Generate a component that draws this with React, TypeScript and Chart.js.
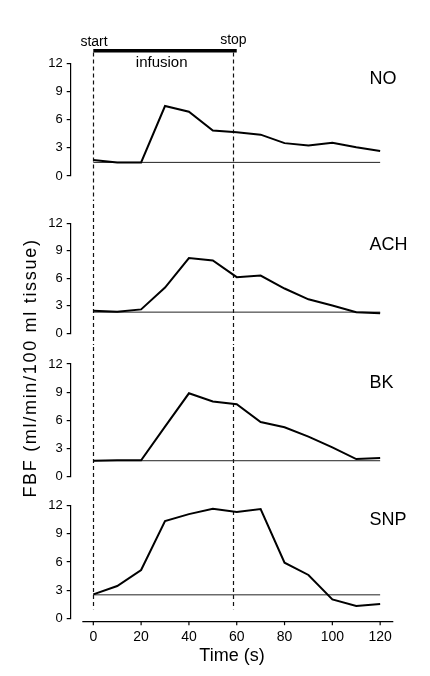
import React, { useEffect, useRef } from "react";
import { Chart, registerables } from "chart.js";

Chart.register(...registerables);

// ---- data ----
const TIME_S = [0, 10, 20, 30, 40, 50, 60, 70, 80, 90, 100, 110, 120];
const FBF_NO = [1.7, 1.45, 1.45, 7.45, 6.85, 4.85, 4.65, 4.4, 3.5, 3.25, 3.55, 3.05, 2.65];
const FBF_ACH = [2.45, 2.35, 2.6, 4.98, 8.2, 7.94, 6.12, 6.3, 4.88, 3.7, 3.03, 2.3, 2.18];
const FBF_BK = [1.7, 1.75, 1.75, 5.33, 8.88, 8.0, 7.72, 5.82, 5.26, 4.27, 3.13, 1.88, 2.0];
const FBF_SNP = [2.55, 3.44, 5.15, 10.37, 11.1, 11.67, 11.33, 11.65, 5.93, 4.62, 2.02, 1.31, 1.52];
const BASELINE = [1.45, 2.3, 1.7, 2.5];
const PANEL_NAMES = ["NO", "ACH", "BK", "SNP"];
const SERIES = [FBF_NO, FBF_ACH, FBF_BK, FBF_SNP];
const Y_TICKS = [0, 3, 6, 9, 12];
const X_TICKS = [0, 20, 40, 60, 80, 100, 120];
const INFUSION = [0, 60];
const START_TIME = 0;
const STOP_TIME = 58.6;
const X_TITLE = "Time (s)";
const Y_TITLE = "FBF (ml/min/100 ml tissue)";

// ---- layout / style ----
const FONT = '"Liberation Sans", Arial, Helvetica, sans-serif';
const PANEL_LAYOUT = [
  { top: 0, height: 200, padTop: 63.3, padBottom: 24, labelY: 10.3 },
  { top: 200, height: 145, padTop: 23.3, padBottom: 9.3, labelY: 9.6 },
  { top: 345, height: 145, padTop: 19, padBottom: 13.3, labelY: 10.0 },
  { top: 490, height: 186, padTop: 15.7, padBottom: 0, labelY: 10.5 },
];
const X_MIN = -9.46;
const X_MAX = 125.5;
const X_AXIS_START = -4.6;

function Panel({ index }: { index: number }) {
  const ref = useRef<HTMLCanvasElement | null>(null);
  const lay = PANEL_LAYOUT[index];
  const isFirst = index === 0;
  const isLast = index === PANEL_LAYOUT.length - 1;

  useEffect(() => {
    if (!ref.current) return;
    const deco = {
      id: "deco" + index,
      beforeDatasetsDraw(chart: any) {
        const ctx = chart.ctx;
        const xs = chart.scales.x;
        const ys = chart.scales.y;
        const area = chart.chartArea;
        ctx.save();
        // dashed start/stop lines
        const y0 = isFirst ? 50.7 : 0;
        const y1 = isLast ? area.bottom - 9 : chart.height;
        ctx.strokeStyle = "#111";
        ctx.lineWidth = 1.2;
        ctx.setLineDash([4, 3]);
        ctx.lineDashOffset = -(lay.top + y0);
        [START_TIME, STOP_TIME].forEach((t) => {
          const px = Math.round(xs.getPixelForValue(t)) + 0.5;
          ctx.beginPath();
          ctx.moveTo(px, y0);
          ctx.lineTo(px, y1);
          ctx.stroke();
        });
        ctx.setLineDash([]);
        // panel label
        ctx.fillStyle = "#000";
        ctx.font = "18px " + FONT;
        ctx.textAlign = "left";
        ctx.textBaseline = "middle";
        ctx.fillText(PANEL_NAMES[index], 369.5, ys.getPixelForValue(lay.labelY));
        if (isFirst) {
          // infusion bar
          ctx.strokeStyle = "#000";
          ctx.lineWidth = 3.5;
          ctx.beginPath();
          ctx.moveTo(xs.getPixelForValue(INFUSION[0]), 50.7);
          ctx.lineTo(xs.getPixelForValue(INFUSION[1]), 50.7);
          ctx.stroke();
          ctx.font = "14px " + FONT;
          ctx.textAlign = "center";
          ctx.textBaseline = "alphabetic";
          ctx.fillText("start", xs.getPixelForValue(START_TIME) + 0.7, 45.5);
          ctx.fillText("stop", xs.getPixelForValue(STOP_TIME), 43.5);
          ctx.font = "15px " + FONT;
          ctx.fillText("infusion", xs.getPixelForValue(28.6), 66.5);
        }
        if (isLast) {
          const ay = area.bottom + 3.4;
          ctx.strokeStyle = "#000";
          ctx.lineWidth = 1.2;
          ctx.beginPath();
          ctx.moveTo(xs.getPixelForValue(X_AXIS_START), ay);
          ctx.lineTo(area.right, ay);
          ctx.stroke();
          X_TICKS.forEach((t) => {
            const px = xs.getPixelForValue(t);
            ctx.beginPath();
            ctx.moveTo(px, ay);
            ctx.lineTo(px, ay + 3.5);
            ctx.stroke();
          });
        }
        ctx.restore();
      },
    };

    const xScale: any = {
      type: "linear",
      min: X_MIN,
      max: X_MAX,
      display: isLast,
      afterBuildTicks: (s: any) => {
        s.ticks = X_TICKS.map((v) => ({ value: v }));
      },
      grid: { display: false },
      border: { display: false },
      ticks: {
        padding: 2,
        autoSkip: false,
        maxRotation: 0,
        color: "#000",
        font: { family: FONT, size: 14 },
      },
      title: {
        display: true,
        text: X_TITLE,
        color: "#000",
        font: { family: FONT, size: 18 },
        padding: { top: 0, bottom: 9 },
      },
    };
    if (isLast) {
      xScale.afterFit = (s: any) => {
        s.height = 57.7;
      };
    }

    const chart = new Chart(ref.current, {
      type: "line",
      data: {
        datasets: [
          {
            data: TIME_S.map((t, i) => ({ x: t, y: SERIES[index][i] })),
            borderColor: "#000",
            borderWidth: 2,
            pointRadius: 0,
            tension: 0,
            fill: false,
          },
          {
            data: [
              { x: TIME_S[0], y: BASELINE[index] },
              { x: TIME_S[TIME_S.length - 1], y: BASELINE[index] },
            ],
            borderColor: "#222",
            borderWidth: 1,
            pointRadius: 0,
            tension: 0,
            fill: false,
          },
        ],
      },
      options: {
        animation: false,
        responsive: false,
        devicePixelRatio: 1,
        layout: { padding: { top: lay.padTop, bottom: lay.padBottom, left: 0, right: 36.7 } },
        plugins: { legend: { display: false }, tooltip: { enabled: false } },
        scales: {
          x: xScale,
          y: {
            type: "linear",
            min: 0,
            max: 12,
            afterBuildTicks: (s: any) => {
              s.ticks = Y_TICKS.map((v) => ({ value: v }));
            },
            afterFit: (s: any) => {
              s.width = 70.7;
            },
            grid: { drawOnChartArea: false, drawTicks: true, tickLength: 4, color: "#000", lineWidth: 1.2 },
            border: { display: true, color: "#000", width: 1.2 },
            ticks: { padding: 4, autoSkip: false, color: "#000", font: { family: FONT, size: 13 } },
          },
        },
      } as any,
      plugins: [deco],
    });
    return () => chart.destroy();
  }, [index]);

  return (
    <canvas
      ref={ref}
      width={430}
      height={lay.height}
      style={{ position: "absolute", left: 0, top: lay.top, width: 430, height: lay.height }}
    />
  );
}

export default function App() {
  return (
    <div style={{ position: "fixed", left: 0, top: 0, width: 430, height: 676, background: "#fff", overflow: "hidden" }}>
      {PANEL_LAYOUT.map((_, i) => (
        <Panel key={i} index={i} />
      ))}
      <div
        style={{
          position: "absolute",
          left: 30 - 150,
          top: 367.5 - 12,
          width: 300,
          height: 24,
          lineHeight: "24px",
          textAlign: "center",
          transform: "rotate(-90deg)",
          fontFamily: FONT,
          fontSize: 18,
          letterSpacing: "1.7px",
          whiteSpace: "nowrap",
          color: "#000",
        }}
      >
        {Y_TITLE}
      </div>
    </div>
  );
}
